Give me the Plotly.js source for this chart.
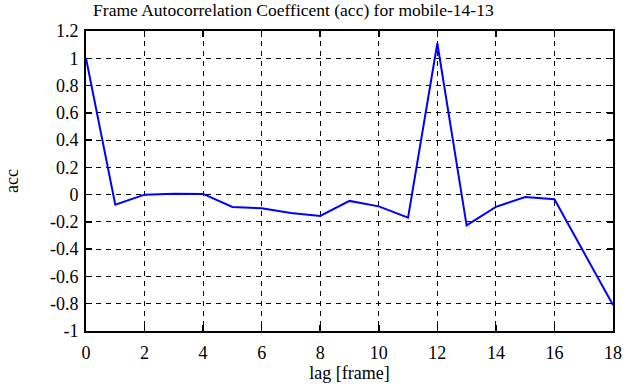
<!DOCTYPE html>
<html>
<head>
<meta charset="utf-8">
<script src="https://cdn.plot.ly/plotly-3.0.1.min.js"></script>
<style>html,body{margin:0;padding:0;background:#fff;}#chart{width:635px;height:387px;}</style>
</head>
<body>
<div id="chart"></div>
<script>
const lags = [0,1,2,3,4,5,6,7,8,9,10,11,12,13,14,15,16,17,18];
const acc = [1.0,-0.073,0.0,0.007,0.005,-0.09,-0.10,-0.134,-0.156,-0.046,-0.086,-0.169,1.11,-0.225,-0.09,-0.017,-0.034,-0.42,-0.81];
const xTicks = [0,2,4,6,8,10,12,14,16,18];
const yTicks = [-1,-0.8,-0.6,-0.4,-0.2,0,0.2,0.4,0.6,0.8,1,1.2];
const yTickText = ['-1','-0.8','-0.6','-0.4','-0.2','0','0.2','0.4','0.6','0.8','1','1.2'];

const font = {family: '"Liberation Serif", "DejaVu Serif", serif', size: 18, color: '#000'};
const axisCommon = {
  showline: true, mirror: 'ticks', linecolor: '#000', linewidth: 2,
  ticks: 'inside', ticklen: 6, tickwidth: 1.5, tickcolor: '#000',
  showgrid: true, gridcolor: '#000', gridwidth: 1, griddash: '5px,5px',
  zeroline: false, tickfont: font
};
Plotly.newPlot('chart', [{
  x: lags, y: acc, type: 'scatter', mode: 'lines',
  line: {color: '#0000ff', width: 2}
}], {
  width: 635, height: 387,
  margin: {l: 86, r: 22, t: 31, b: 56},
  paper_bgcolor: '#fff', plot_bgcolor: '#fff',
  showlegend: false,
  font: font,
  title: {text: 'Frame Autocorrelation Coefficent (acc) for mobile-14-13', font: Object.assign({}, font, {size: 17.5}), x: 0.462, xanchor: 'center', y: 0.99, yanchor: 'top'},
  xaxis: Object.assign({}, axisCommon, {
    range: [0, 18], tickmode: 'array', tickvals: xTicks, ticklabelstandoff: 4,
    title: {text: 'lag [frame]', font: font, standoff: 5}
  }),
  yaxis: Object.assign({}, axisCommon, {
    range: [-1, 1.2], tickmode: 'array', tickvals: yTicks, ticktext: yTickText, ticklabelstandoff: 2,
    title: {text: 'acc', font: font, standoff: 27}
  })
}, {displayModeBar: false, staticPlot: true});
</script>
</body>
</html>
